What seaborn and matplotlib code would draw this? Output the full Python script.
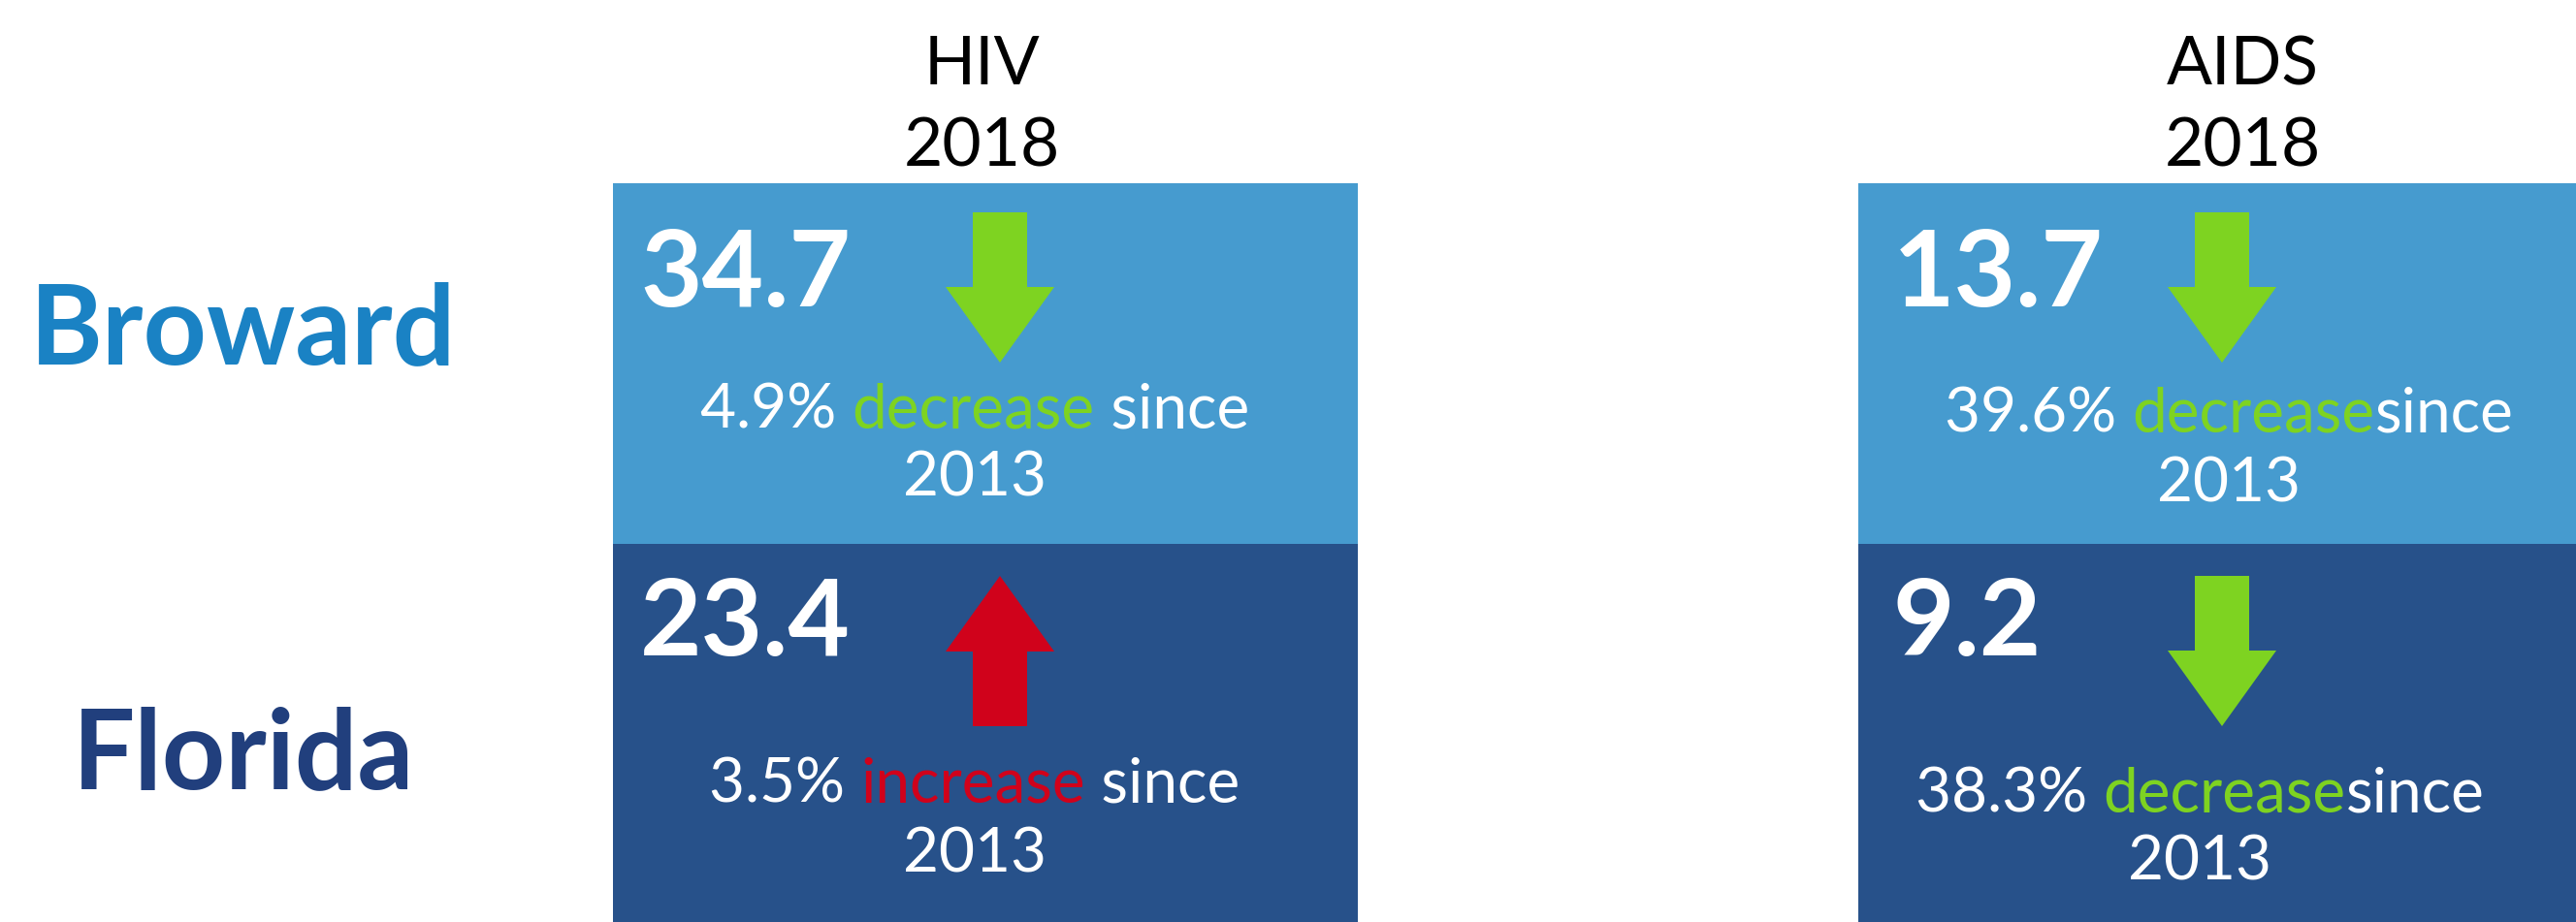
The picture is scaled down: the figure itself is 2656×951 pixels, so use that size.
import numpy as np
import pandas as pd
import matplotlib
matplotlib.use("Agg")
import matplotlib.pyplot as plt
from matplotlib import font_manager as fm
from matplotlib.colors import ListedColormap
import seaborn as sns

# Data (rates per 100,000, 2018, change since 2013)
panels = ["HIV", "AIDS"]
regions = ["Broward", "Florida"]
year = "2018"
base_year = "2013"
hiv_rates = [34.7, 23.4]
aids_rates = [13.7, 9.2]
hiv_change = [-4.9, 3.5]
aids_change = [-39.6, -38.3]
# the AIDS boxes have no space between "decrease" and "since" in the original
since_text = [" since", "since"]

# Colors
light_blue = "#469BCF"
dark_blue = "#27518A"
region_colors = ["#1A82C4", "#213F7D"]
green = "#7ED321"
red = "#D0021B"

# Fonts
sns.set_theme(style="white")
avail = {f.name for f in fm.fontManager.ttflist}
fam = "Lato" if "Lato" in avail else "DejaVu Sans"
plt.rcParams["font.family"] = [fam, "DejaVu Sans"]
thin = "normal"

W, H = 2656, 951
fig = plt.figure(figsize=(W / 100, H / 100), dpi=100)

# Panel geometry in pixels: left, right
panel_x = [(632, 1400), (1916, 2656)]
box_top = 189
row_h = 372  # height of the top (Broward) row

rates = [hiv_rates, aids_rates]
changes = [hiv_change, aids_change]

for p, (x0, x1) in enumerate(panel_x):
    ax = fig.add_axes([x0 / W, 0, (x1 - x0) / W, (H - box_top) / H])
    df = pd.DataFrame({panels[p]: [0, 1]}, index=regions)
    sns.heatmap(df, cmap=ListedColormap([light_blue, dark_blue]), vmin=0, vmax=1,
                cbar=False, ax=ax, xticklabels=False, yticklabels=False)
    # bottom row runs off the page a little
    ax.set_ylim((H - box_top) / row_h, 0)
    ax.set_facecolor(dark_blue)
    ax.set_xlabel("")
    ax.set_ylabel("")

# Overlay axes in pixel coordinates for text and arrows
ov = fig.add_axes([0, 0, 1, 1])
ov.set_xlim(0, W)
ov.set_ylim(H, 0)
ov.axis("off")
ov.patch.set_alpha(0)
renderer = fig.canvas.get_renderer()

# Headers
header_cx = [1012, 2312]
for p in range(2):
    ov.text(header_cx[p], 87, panels[p], ha="center", va="baseline",
            fontsize=50, fontweight=thin, color="black")
    ov.text(header_cx[p], 172, year, ha="center", va="baseline",
            fontsize=50, fontweight=thin, color="black")

# Region labels
label_base = [375, 813]
for r, name in enumerate(regions):
    ov.text(251, label_base[r], name, ha="center", va="baseline",
            fontsize=82, fontweight="bold", color=region_colors[r])


def draw_arrow(cx, y_top, up, color):
    # arrow 155 px long, head 112 px wide, shaft 56 px wide
    hw, sw, hl, L = 56, 28, 78, 155
    if up:
        pts = [(cx, y_top), (cx + hw, y_top + hl), (cx + sw, y_top + hl),
               (cx + sw, y_top + L), (cx - sw, y_top + L), (cx - sw, y_top + hl),
               (cx - hw, y_top + hl)]
    else:
        yb = y_top + L
        pts = [(cx, yb), (cx + hw, yb - hl), (cx + sw, yb - hl),
               (cx + sw, y_top), (cx - sw, y_top), (cx - sw, yb - hl),
               (cx - hw, yb - hl)]
    xs, ys = zip(*pts)
    ov.fill(xs, ys, color=color, lw=0, zorder=3)


def multi_text(cx, y, parts, size):
    # parts: list of (string, color); centered as one line
    arts = []
    for s, c in parts:
        t = ov.text(0, y, s, ha="left", va="baseline", fontsize=size,
                    fontweight=thin, color=c)
        arts.append(t)
    widths = [t.get_window_extent(renderer).width for t in arts]
    x = cx - sum(widths) / 2
    for t, w in zip(arts, widths):
        t.set_x(x)
        x += w


num_x = [660, 1952]
num_base = [316, 676]
arrow_cx = [1031, 2291]
arrow_top = [219, 594]
sub_cx = [[1005, 1005], [2298, 2268]]
sub_base = [[441, 828], [446, 837]]

for p in range(2):
    for r in range(2):
        ov.text(num_x[p], num_base[r], f"{rates[p][r]}", ha="left", va="baseline",
                fontsize=79, fontweight="bold", color="white")
        ch = changes[p][r]
        up = ch > 0
        col = red if up else green
        draw_arrow(arrow_cx[p], arrow_top[r], up, col)
        word = "increase" if up else "decrease"
        multi_text(sub_cx[p][r], sub_base[p][r],
                   [(f"{abs(ch)}% ", "white"), (word, col), (since_text[p], "white")], 46)
        ov.text(sub_cx[p][r], sub_base[p][r] + 71, base_year, ha="center", va="baseline",
                fontsize=46, fontweight=thin, color="white")

fig.savefig("out.png", dpi=100)
